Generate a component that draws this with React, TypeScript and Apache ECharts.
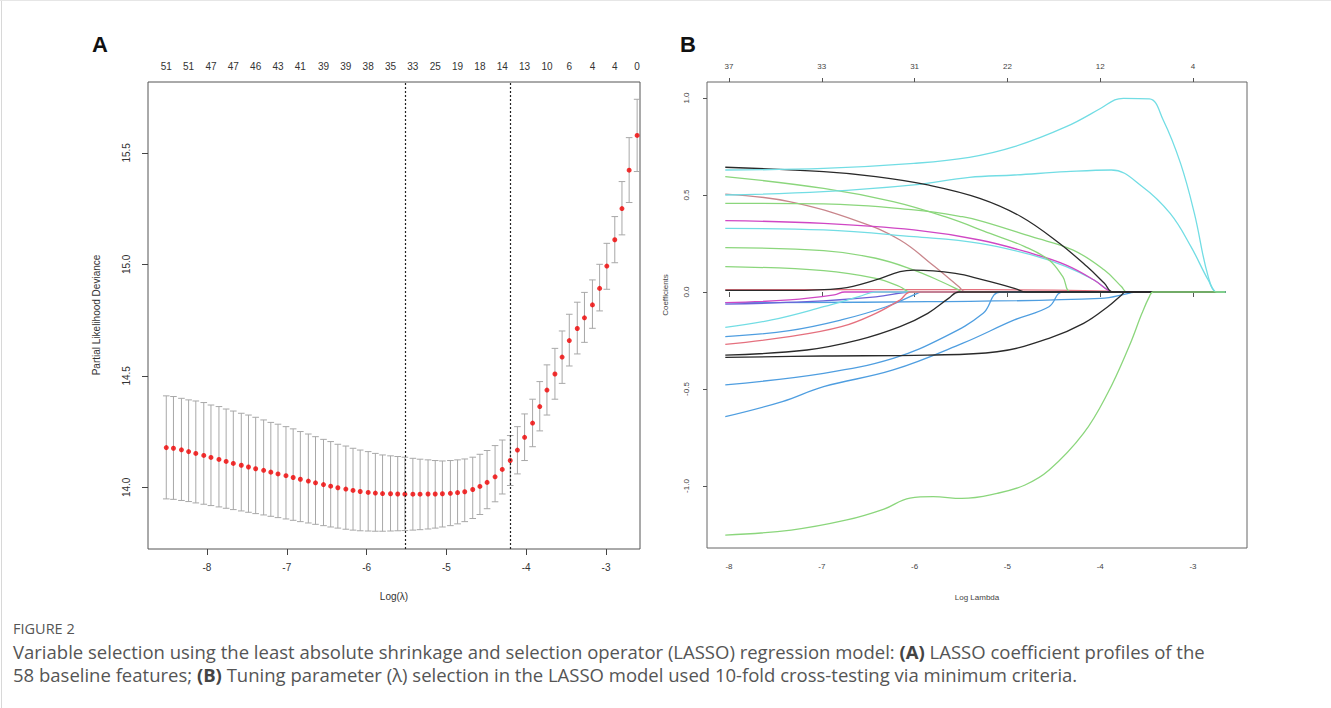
import React, { useEffect, useRef } from "react";
import * as echarts from "echarts";

// ---------- Panel A data (cross-validation curve) ----------
const logLambdaA = [-8.51,-8.42,-8.32,-8.23,-8.14,-8.04,-7.95,-7.85,-7.76,-7.67,
  -7.57,-7.48,-7.39,-7.29,-7.20,-7.11,-7.01,-6.92,-6.83,-6.73,
  -6.64,-6.54,-6.45,-6.36,-6.26,-6.17,-6.08,-5.98,-5.89,-5.80,
  -5.70,-5.61,-5.52,-5.42,-5.33,-5.23,-5.14,-5.05,-4.95,-4.86,
  -4.77,-4.67,-4.58,-4.49,-4.39,-4.30,-4.20,-4.11,-4.02,-3.92,
  -3.83,-3.74,-3.64,-3.55,-3.46,-3.36,-3.27,-3.17,-3.08,-2.99,
  -2.89,-2.80,-2.71,-2.61];
const meanA = [14.178,14.175,14.168,14.160,14.152,14.143,14.134,14.125,14.116,14.107,
  14.099,14.091,14.083,14.076,14.068,14.060,14.052,14.044,14.036,14.028,
  14.020,14.012,14.005,13.998,13.992,13.986,13.981,13.977,13.974,13.972,
  13.971,13.970,13.969,13.969,13.969,13.970,13.970,13.971,13.973,13.976,
  13.980,13.990,14.004,14.022,14.047,14.080,14.120,14.167,14.224,14.288,
  14.362,14.436,14.508,14.584,14.658,14.712,14.760,14.818,14.892,14.992,
  15.110,15.250,15.422,15.578];
const upperA = [14.410,14.407,14.399,14.392,14.387,14.380,14.369,14.362,14.351,14.342,
  14.332,14.324,14.314,14.302,14.291,14.283,14.272,14.262,14.250,14.239,
  14.227,14.215,14.205,14.193,14.185,14.175,14.167,14.160,14.152,14.145,
  14.141,14.138,14.135,14.130,14.126,14.123,14.120,14.118,14.120,14.123,
  14.127,14.135,14.148,14.165,14.187,14.212,14.232,14.272,14.329,14.395,
  14.474,14.549,14.623,14.701,14.776,14.830,14.874,14.930,15.000,15.094,
  15.214,15.371,15.568,15.740];
const lowerA = [13.948,13.946,13.941,13.936,13.930,13.924,13.918,13.912,13.906,13.900,
  13.894,13.888,13.882,13.876,13.870,13.864,13.858,13.852,13.846,13.840,
  13.834,13.828,13.822,13.817,13.812,13.808,13.805,13.804,13.803,13.803,
  13.804,13.805,13.806,13.808,13.810,13.813,13.817,13.822,13.828,13.836,
  13.846,13.860,13.878,13.904,13.935,13.970,14.008,14.060,14.120,14.182,
  14.253,14.324,14.395,14.466,14.544,14.598,14.650,14.713,14.791,14.888,
  15.007,15.132,15.277,15.416];
const topLabelIdxA = [0,3,6,9,12,15,18,21,24,27,30,33,36,39,42,45,48,51,54,57,60,63];
const topLabelsA = ["51","51","47","47","46","43","41","39","39","38","35","33","25","19","18","14","13","10","6","4","4","0"];
const minIdxA = 32;
const seIdxA = 46;
const xTicksA = [-8, -7, -6, -5, -4, -3];
const yTicksA = [14.0, 14.5, 15.0, 15.5];
const xRangeA = [-8.739, -2.574];
const yRangeA = [13.7233, 15.8175];

// ---------- Panel B data (coefficient paths) ----------
const xTicksB = [-8, -7, -6, -5, -4, -3];
const topLabelsB = ["37", "33", "31", "22", "12", "4"];
const yTicksB = [-1.0, -0.5, 0.0, 0.5, 1.0];
const xRangeB = [-8.237, -2.418];
const yRangeB = [-1.3196, 1.0825];
const lambdaEndB = -2.65;

const pathBlackTop = [[-8.04,0.643],[-6.98,0.620],[-6.418,0.595],[-5.858,0.552],[-5.298,0.483],[-4.851,0.388],[-4.44,0.251],[-4.142,0.131],[-3.955,0.045],[-3.862,0]];
const pathCyanTop = [[-8.04,0.629],[-6.98,0.637],[-6.007,0.663],[-5.41,0.694],[-4.925,0.749],[-4.366,0.852],[-3.993,0.947],[-3.843,0.990],[-3.75,0.998],[-3.47,0.995],[-3.321,0.887],[-3.134,0.663],[-2.985,0.405],[-2.836,0.079],[-2.743,0]];
const pathGreenC = [[-8.04,0.595],[-6.98,0.534],[-6.231,0.466],[-5.672,0.388],[-5.187,0.302],[-4.813,0.234],[-4.552,0.165],[-4.403,0.079],[-4.31,0]];
const pathGreenE = [[-8.04,0.457],[-6.98,0.454],[-6.007,0.423],[-5.485,0.388],[-5.261,0.363],[-4.739,0.285],[-4.291,0.216],[-3.955,0.113],[-3.769,0.027],[-3.713,0]];
const pathBrown = [[-8.04,0.505],[-7.35,0.466],[-6.60,0.363],[-6.157,0.268],[-5.784,0.131],[-5.522,0.027],[-5.448,0]];
const pathCyan2 = [[-8.04,0.500],[-6.98,0.517],[-6.007,0.552],[-5.41,0.591],[-4.925,0.603],[-4.366,0.620],[-3.88,0.629],[-3.545,0.543],[-3.246,0.405],[-3.022,0.234],[-2.836,0.062],[-2.743,0]];
const pathMagenta = [[-8.04,0.368],[-6.98,0.354],[-6.007,0.320],[-5.298,0.268],[-4.739,0.199],[-4.366,0.139],[-4.067,0.062],[-3.918,0.010],[-3.862,0]];
const pathCyanG = [[-8.04,0.328],[-6.98,0.320],[-6.007,0.285],[-5.298,0.251],[-4.739,0.191],[-4.366,0.131],[-4.067,0.062],[-3.918,0.010],[-3.862,0]];
const pathGreenH = [[-8.04,0.229],[-6.98,0.213],[-6.418,0.174],[-6.007,0.113],[-5.709,0.053],[-5.522,0.010],[-5.485,0]];
const pathGreenI = [[-8.04,0.131],[-6.98,0.110],[-6.418,0.070],[-6.157,0.027],[-6.045,0]];
const pathBlackHump = [[-8.04,0.008],[-7.35,0.008],[-6.79,0.019],[-6.418,0.062],[-6.157,0.105],[-6.007,0.113],[-5.56,0.096],[-5.261,0.062],[-4.925,0.019],[-4.795,0]];
const pathRedFlat = [[-8.04,0.012],[-6.0,0.012],[-4.5,0.010],[-3.9,0.005],[-3.862,0]];
const pathBlueFlat = [[-8.04,-0.055],[-5.858,-0.050],[-3.993,-0.033],[-3.694,-0.007],[-3.619,0]];
const pathMagentaLow = [[-8.04,-0.055],[-7.35,-0.041],[-6.866,-0.015],[-6.754,0]];
const pathPurple = [[-8.04,-0.062],[-7.16,-0.050],[-6.418,-0.025],[-6.0,0]];
const pathCyanL = [[-8.04,-0.182],[-7.54,-0.144],[-6.98,-0.076],[-6.60,-0.024],[-6.418,0]];
const pathBlueM = [[-8.04,-0.230],[-7.35,-0.199],[-6.79,-0.144],[-6.306,-0.076],[-5.97,-0.007],[-5.933,0]];
const pathRedN = [[-8.04,-0.270],[-7.35,-0.230],[-6.79,-0.179],[-6.418,-0.110],[-6.157,-0.041],[-6.045,0]];
const pathBlackO = [[-8.04,-0.325],[-7.16,-0.299],[-6.60,-0.247],[-6.157,-0.179],[-5.858,-0.110],[-5.634,-0.033],[-5.522,0]];
const pathBlackP = [[-8.04,-0.337],[-6.98,-0.330],[-5.858,-0.325],[-5.112,-0.308],[-4.552,-0.239],[-4.179,-0.162],[-3.918,-0.076],[-3.769,-0.015],[-3.731,0]];
const pathBlueQ = [[-8.04,-0.479],[-6.98,-0.419],[-6.231,-0.342],[-5.672,-0.230],[-5.261,-0.110],[-5.075,0]];
const pathBlueR = [[-8.04,-0.643],[-7.425,-0.565],[-6.98,-0.488],[-6.231,-0.402],[-5.485,-0.265],[-4.925,-0.144],[-4.552,-0.076],[-4.403,0]];
const pathGreenBottom = [[-8.04,-1.253],[-7.33,-1.227],[-6.73,-1.175],[-6.33,-1.119],[-6.05,-1.062],[-5.8,-1.055],[-5.49,-1.064],[-5.11,-1.038],[-4.81,-0.995],[-4.55,-0.918],[-4.18,-0.729],[-3.92,-0.522],[-3.69,-0.282],[-3.55,-0.110],[-3.47,-0.024],[-3.43,0]];

const C_BLACK = "#2a2a2a";
const C_RED = "#E5707E";
const C_GREEN = "#8BD67C";
const C_BLUE = "#4F9EE0";
const C_CYAN = "#72DDE4";
const C_MAGENTA = "#D047C4";
const C_BROWN = "#C9868C";
const C_PURPLE = "#6C63D8";

const linesB = [
  { data: pathRedFlat, color: C_RED },
  { data: pathBlueFlat, color: C_BLUE },
  { data: pathMagentaLow, color: C_MAGENTA },
  { data: pathPurple, color: C_PURPLE },
  { data: pathGreenI, color: C_GREEN },
  { data: pathGreenH, color: C_GREEN },
  { data: pathCyanL, color: C_CYAN },
  { data: pathBlueM, color: C_BLUE },
  { data: pathRedN, color: C_RED },
  { data: pathBrown, color: C_BROWN },
  { data: pathCyanG, color: C_CYAN },
  { data: pathMagenta, color: C_MAGENTA },
  { data: pathGreenE, color: C_GREEN },
  { data: pathGreenC, color: C_GREEN },
  { data: pathBlueQ, color: C_BLUE },
  { data: pathBlueR, color: C_BLUE },
  { data: pathBlackO, color: C_BLACK },
  { data: pathBlackP, color: C_BLACK },
  { data: pathBlackHump, color: C_BLACK },
  { data: pathCyan2, color: C_CYAN },
  { data: pathBlackTop, color: C_BLACK },
  { data: pathCyanTop, color: C_CYAN },
  { data: pathGreenBottom, color: C_GREEN },
];

const FONT_A = '"Liberation Sans", Arial, sans-serif';
const FONT_B = '"Liberation Sans Narrow", "Liberation Sans", Arial, sans-serif';
const FONT_CAP = '"Open Sans", "Noto Sans", sans-serif';

export default function App() {
  const ref = useRef<HTMLDivElement>(null);
  useEffect(() => {
    if (!ref.current) return;
    const chart = echarts.init(ref.current, undefined, { renderer: "svg" });

    const topValsA = topLabelIdxA.map((i) => logLambdaA[i]);
    const topLabelFor = (v: number) => {
      let best = 0;
      for (let k = 1; k < topValsA.length; k++) {
        if (Math.abs(topValsA[k] - v) < Math.abs(topValsA[best] - v)) best = k;
      }
      return topLabelsA[best];
    };
    const topLabelForB = (v: number) => {
      let best = 0;
      for (let k = 1; k < xTicksB.length; k++) {
        if (Math.abs(xTicksB[k] - v) < Math.abs(xTicksB[best] - v)) best = k;
      }
      return topLabelsB[best];
    };

    const errData = logLambdaA.map((x, i) => [x, lowerA[i], upperA[i]]);
    const meanData = logLambdaA.map((x, i) => [x, meanA[i]]);

    const axisTextA = { color: "#333", fontSize: 10, fontFamily: FONT_A };
    const axisTextB = { color: "#444", fontSize: 8, fontFamily: FONT_B };
    const centered = { align: "center", verticalAlign: "middle", textAlign: "center", textVerticalAlign: "middle" };
    const leftMid = { align: "left", verticalAlign: "middle", textAlign: "left", textVerticalAlign: "middle" };

    const option: any = {
      animation: false,
      backgroundColor: "#fff",
      grid: [
        { left: 148, top: 82, width: 492, height: 467, show: true, borderColor: "#555", borderWidth: 1 },
        { left: 707, top: 82, width: 540, height: 466, show: true, borderColor: "#666", borderWidth: 1 },
      ],
      xAxis: [
        {
          type: "value", gridIndex: 0, position: "bottom", min: xRangeA[0], max: xRangeA[1],
          axisLine: { show: false }, splitLine: { show: false },
          axisTick: { show: true, customValues: xTicksA, length: 6, lineStyle: { color: "#444" } },
          axisLabel: { customValues: xTicksA, margin: 13, ...axisTextA, formatter: (v: number) => String(v) },
        },
        {
          type: "value", gridIndex: 0, position: "top", min: xRangeA[0], max: xRangeA[1],
          axisLine: { show: false }, splitLine: { show: false }, axisTick: { show: false },
          axisLabel: { customValues: topValsA, margin: 11, ...axisTextA, formatter: (v: number) => topLabelFor(v) },
        },
        {
          type: "value", gridIndex: 1, position: "bottom", min: xRangeB[0], max: xRangeB[1],
          axisLine: { show: false }, splitLine: { show: false },
          axisTick: { show: true, customValues: xTicksB, length: 5, lineStyle: { color: "#555" } },
          axisLabel: { customValues: xTicksB, margin: 14, ...axisTextB, formatter: (v: number) => String(v) },
        },
        {
          type: "value", gridIndex: 1, position: "top", min: xRangeB[0], max: xRangeB[1],
          axisLine: { show: false }, splitLine: { show: false },
          axisTick: { show: true, customValues: xTicksB, length: 4, lineStyle: { color: "#555" } },
          axisLabel: { customValues: xTicksB, margin: 12, ...axisTextB, formatter: (v: number) => topLabelForB(v) },
        },
      ],
      yAxis: [
        {
          type: "value", gridIndex: 0, min: yRangeA[0], max: yRangeA[1],
          axisLine: { show: false }, splitLine: { show: false },
          axisTick: { show: true, customValues: yTicksA, length: 6, lineStyle: { color: "#444" } },
          axisLabel: { customValues: yTicksA, rotate: 90, margin: 17, ...axisTextA, formatter: (v: number) => v.toFixed(1) },
        },
        {
          type: "value", gridIndex: 1, min: yRangeB[0], max: yRangeB[1],
          axisLine: { show: false }, splitLine: { show: false },
          axisTick: { show: true, customValues: yTicksB, length: 4, lineStyle: { color: "#555" } },
          axisLabel: { customValues: yTicksB, rotate: 90, margin: 17, ...axisTextB, formatter: (v: number) => v.toFixed(1) },
        },
      ],
      series: [
        {
          type: "custom", xAxisIndex: 0, yAxisIndex: 0, data: errData, encode: { x: 0, y: [1, 2] },
          renderItem: (params: any, api: any) => {
            const x = api.value(0);
            const lo = api.coord([x, api.value(1)]);
            const hi = api.coord([x, api.value(2)]);
            const w = 3.3;
            const style = { stroke: "#A8A8A8", lineWidth: 1 };
            return {
              type: "group",
              children: [
                { type: "line", shape: { x1: lo[0], y1: lo[1], x2: hi[0], y2: hi[1] }, style },
                { type: "line", shape: { x1: lo[0] - w, y1: lo[1], x2: lo[0] + w, y2: lo[1] }, style },
                { type: "line", shape: { x1: hi[0] - w, y1: hi[1], x2: hi[0] + w, y2: hi[1] }, style },
              ],
            };
          },
        },
        {
          type: "scatter", xAxisIndex: 0, yAxisIndex: 0, data: meanData, symbolSize: 5,
          itemStyle: { color: "#F00000" },
          markLine: {
            silent: true, symbol: "none", label: { show: false },
            lineStyle: { type: [2, 2], color: "#222", width: 1.2 },
            data: [{ xAxis: logLambdaA[minIdxA] }, { xAxis: logLambdaA[seIdxA] }],
          },
        },
        ...linesB.map((l) => ({
          type: "line", xAxisIndex: 2, yAxisIndex: 1, showSymbol: false, symbol: "none",
          data: [...l.data, [lambdaEndB, 0]],
          smooth: 0.4,
          lineStyle: { color: l.color, width: 1.3 },
        })),
      ],
      graphic: [
        { type: "line", shape: { x1: 1.5, y1: 0, x2: 1.5, y2: 708 }, style: { stroke: "#d8d8d8", lineWidth: 1 } },
        { type: "line", shape: { x1: 0, y1: 0.5, x2: 1331, y2: 0.5 }, style: { stroke: "#e6e6e6", lineWidth: 1 } },
        { type: "text", x: 92, y: 33, style: { text: "A", fill: "#111", font: 'bold 22px "Liberation Sans", Arial, sans-serif' } },
        { type: "text", x: 680, y: 33, style: { text: "B", fill: "#111", font: 'bold 22px "Liberation Sans", Arial, sans-serif' } },
        {
          type: "text", x: 96, y: 315, rotation: Math.PI / 2,
          style: { text: "Partial Likelihood Deviance", fill: "#333", fontSize: 10, fontFamily: FONT_A, ...centered },
        },
        {
          type: "text", x: 394, y: 596,
          style: { text: "Log(λ)", fill: "#333", fontSize: 10, fontFamily: FONT_A, ...centered },
        },
        {
          type: "text", x: 665, y: 295, rotation: Math.PI / 2,
          style: { text: "Coefficients", fill: "#444", fontSize: 8, fontFamily: FONT_B, ...centered },
        },
        {
          type: "text", x: 977, y: 597,
          style: { text: "Log Lambda", fill: "#444", fontSize: 8, fontFamily: FONT_B, ...centered },
        },
        {
          type: "text", x: 13, y: 628,
          style: { text: "FIGURE 2", fill: "#555", fontSize: 14.5, fontFamily: FONT_CAP, ...leftMid },
        },
        {
          type: "text", x: 13, y: 651,
          style: {
            text: "Variable selection using the least absolute shrinkage and selection operator (LASSO) regression model: {b|(A)} LASSO coefficient profiles of the",
            fill: "#555", fontSize: 18.5, fontFamily: FONT_CAP, ...leftMid,
            rich: { b: { fontWeight: "bold", fontSize: 18.5, fontFamily: FONT_CAP, fill: "#444" } },
          },
        },
        {
          type: "text", x: 13, y: 674,
          style: {
            text: "58 baseline features; {b|(B)} Tuning parameter (λ) selection in the LASSO model used 10-fold cross-testing via minimum criteria.",
            fill: "#555", fontSize: 18.5, fontFamily: FONT_CAP, ...leftMid,
            rich: { b: { fontWeight: "bold", fontSize: 18.5, fontFamily: FONT_CAP, fill: "#444" } },
          },
        },
      ],
    };
    chart.setOption(option);
    return () => chart.dispose();
  }, []);
  return <div ref={ref} style={{ position: "fixed", left: 0, top: 0, width: 1331, height: 708 }} />;
}
